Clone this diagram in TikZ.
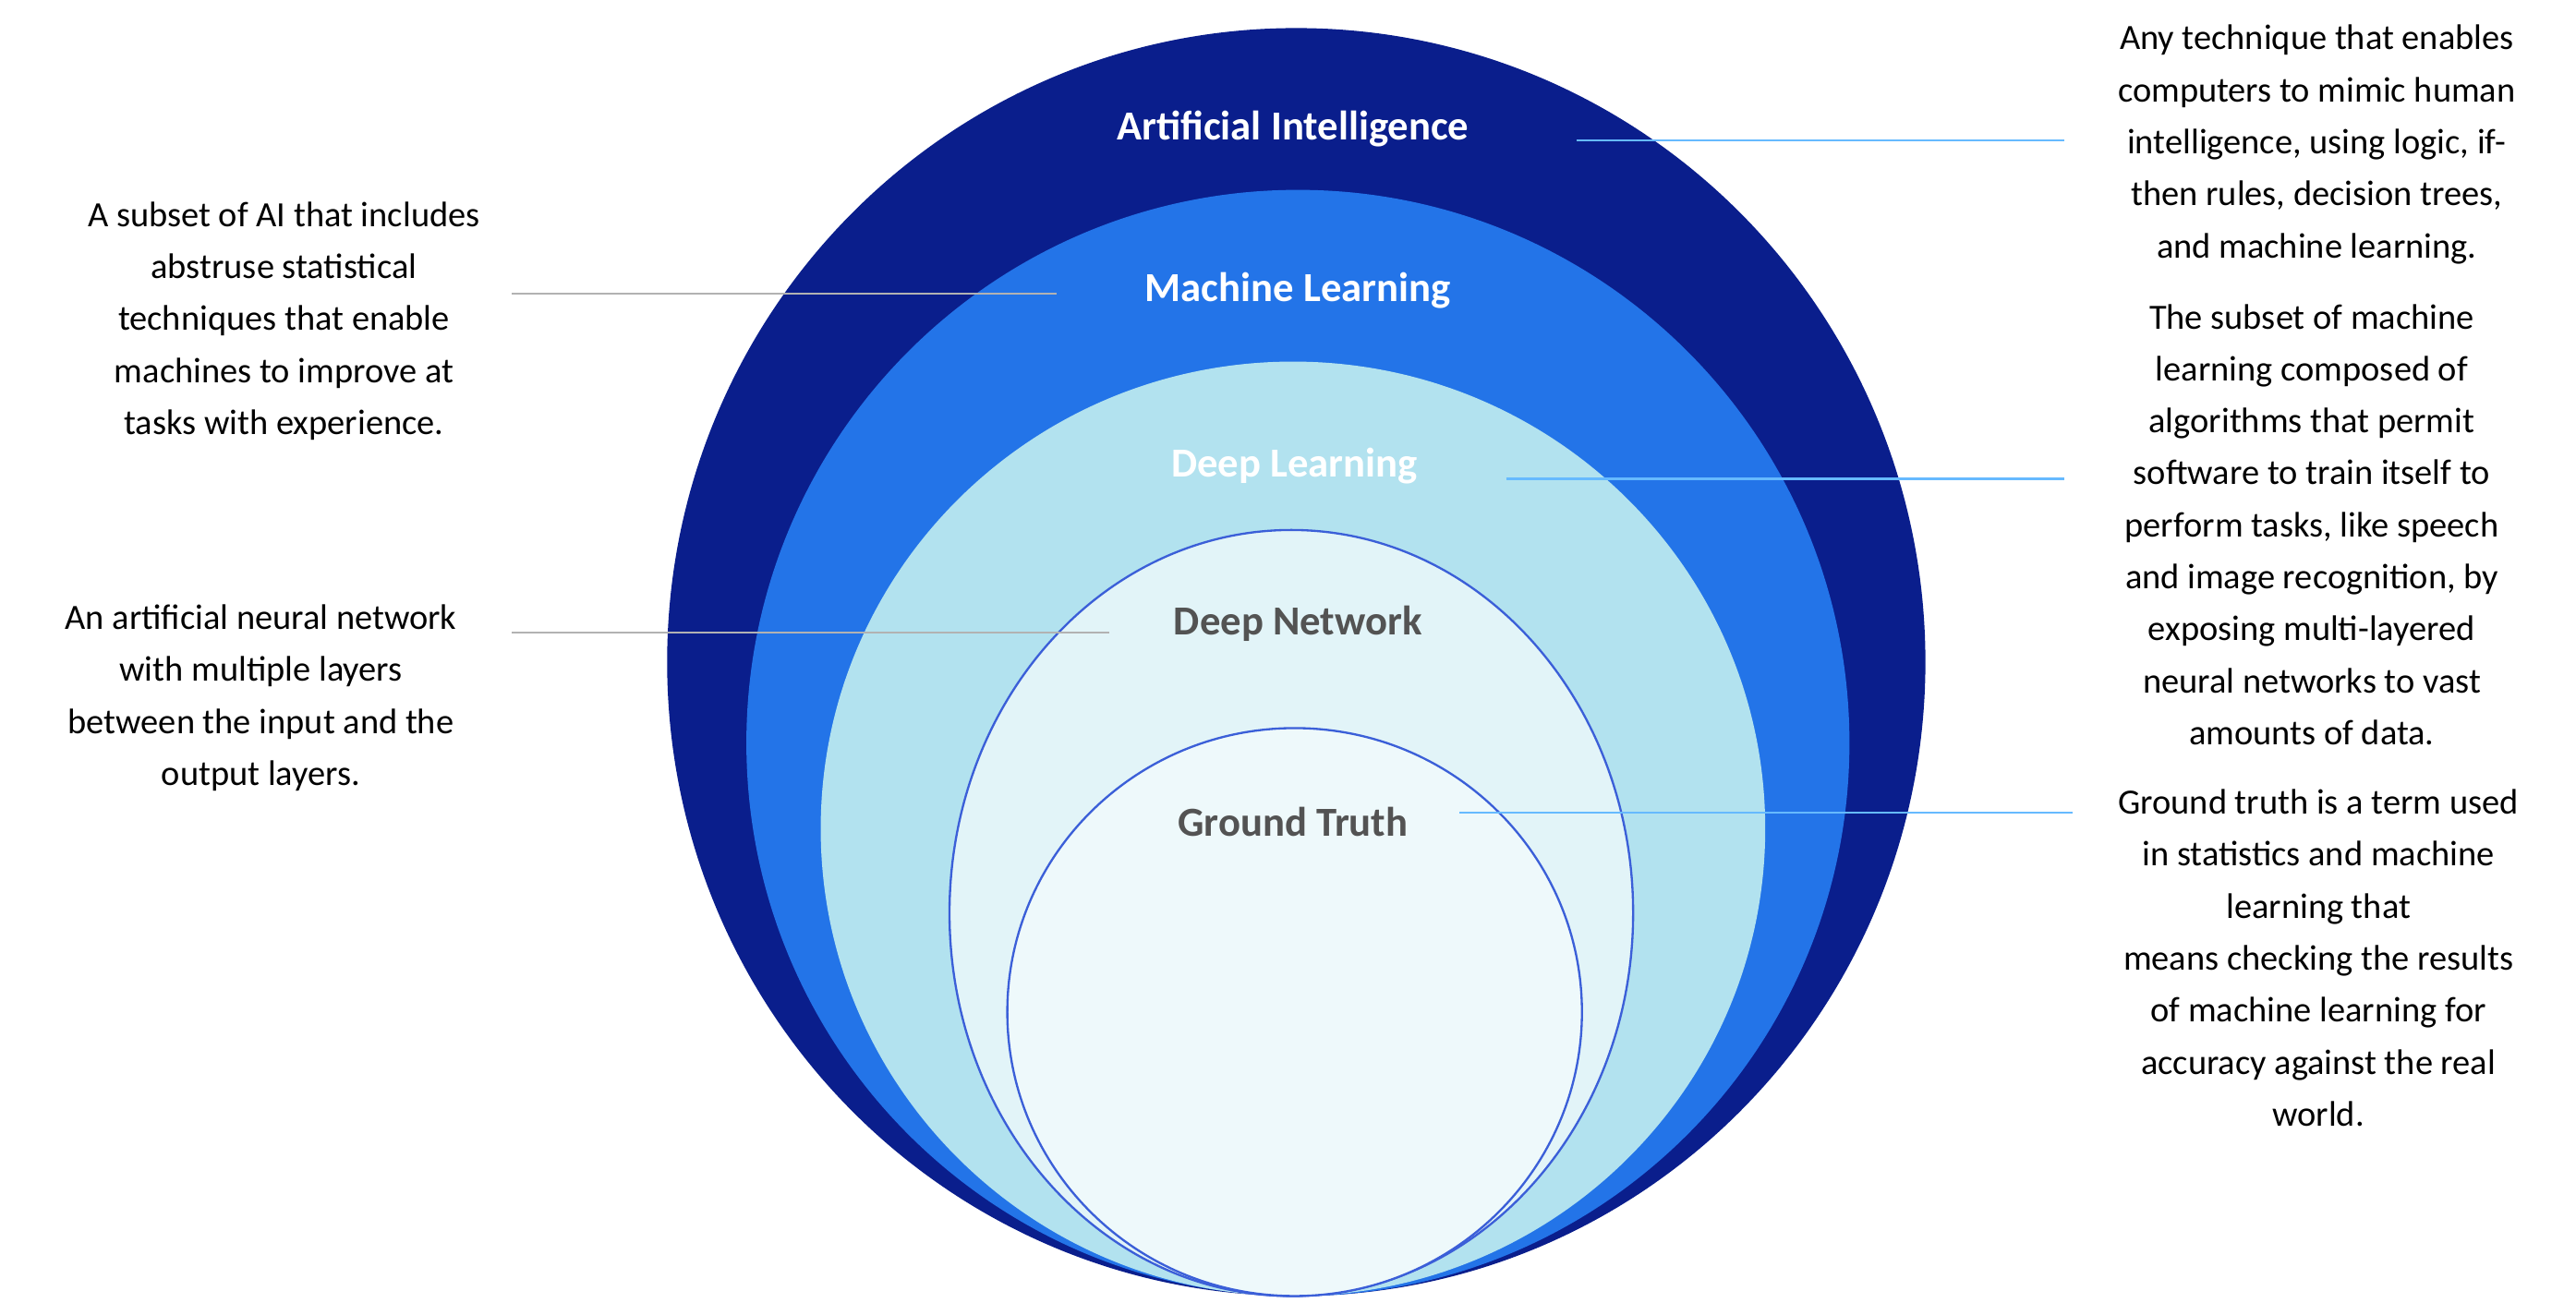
\documentclass[tikz,border=0pt]{standalone}
\usepackage{fontspec}
\setmainfont{Carlito}
\begin{document}
\begin{tikzpicture}[x=1pt,y=-1pt,
 title/.style={font=\fontsize{25}{30}\selectfont\bfseries,text=white},
 desc/.style={font=\fontsize{21.5}{31.5}\selectfont,align=center,text=black,inner sep=0pt},
 lineb/.style={draw=blue!45!cyan!60,line width=1.2pt},
 lineg/.style={draw=gray!60,line width=1.2pt}]
\useasboundingbox (0,0) rectangle (1560,796);
\fill[white] (0,0) rectangle (1560,796);
\definecolor{c1}{HTML}{0A1E8C}
\definecolor{c2}{HTML}{2374E8}
\definecolor{c3}{HTML}{B2E2EF}
\definecolor{c4}{HTML}{E2F4F8}
\definecolor{c5}{HTML}{EEF9FB}
\definecolor{bd}{HTML}{3B5FD8}
\fill[c1] (785,401) ellipse [x radius=381, y radius=384];
\fill[c2] (786,450) ellipse [x radius=334, y radius=335];
\fill[c3] (783,502) ellipse [x radius=286, y radius=283];
\filldraw[fill=c4,draw=bd,line width=1.3pt] (782,553) ellipse [x radius=207, y radius=232];
\filldraw[fill=c5,draw=bd,line width=1.3pt] (784,613) ellipse [x radius=174, y radius=172];
\node[title] (ait) at (783,78) {Artificial Intelligence};
\node[title] (mlt) at (786,176) {Machine Learning};
\node[title] (dlt) at (784,282) {Deep Learning};
\node[title,text=gray!20!black!75] (dnt) at (786,378) {Deep Network};
\node[title,text=gray!20!black!75] (gtt) at (783,498) {Ground Truth};
\node[desc,anchor=north] (aid) at (1403,15) {Any technique that enables\\computers to mimic human\\intelligence, using logic, if-\\then rules, decision trees,\\and machine learning.};
\node[desc,anchor=north] (mld) at (172,122) {A subset of AI that includes\\abstruse statistical\\techniques that enable\\machines to improve at\\tasks with experience.};
\node[desc,anchor=north] (dld) at (1400,184) {The subset of machine\\learning composed of\\algorithms that permit\\software to train itself to\\perform tasks, like speech\\and image recognition, by\\exposing multi-layered\\neural networks to vast\\amounts of data.};
\node[desc,anchor=north] (dnd) at (158,366) {An artificial neural network\\with multiple layers\\between the input and the\\output layers.};
\node[desc,anchor=north] (gtd) at (1404,478) {Ground truth is a term used\\in statistics and machine\\learning that\\means checking the results\\of machine learning for\\accuracy against the real\\world.};
\coordinate (a1) at (955,85); \coordinate (a2) at (1250,85);
\coordinate (m1) at (310,178); \coordinate (m2) at (640,178);
\coordinate (d1) at (912,290); \coordinate (d2) at (1250,290);
\coordinate (n1) at (310,383); \coordinate (n2) at (672,383);
\coordinate (g1) at (884,492); \coordinate (g2) at (1255,492);
\draw[lineb] (a1) -- (a2);
\draw[lineg] (m1) -- (m2);
\draw[lineb] (d1) -- (d2);
\draw[lineg] (n1) -- (n2);
\draw[lineb] (g1) -- (g2);
\end{tikzpicture}
\end{document}
